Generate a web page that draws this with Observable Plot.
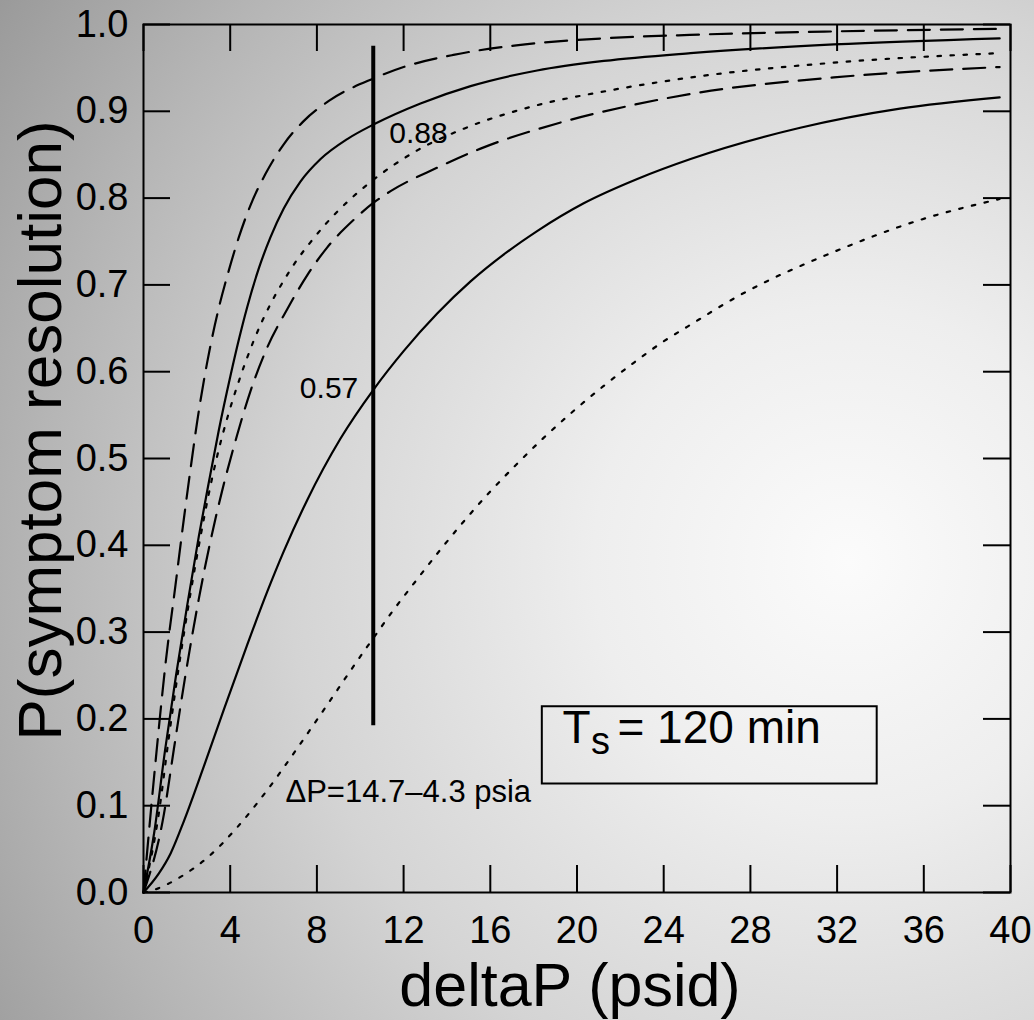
<!DOCTYPE html>
<html><head><meta charset="utf-8">
<script src="https://cdn.jsdelivr.net/npm/d3@7"></script>
<script src="https://cdn.jsdelivr.net/npm/@observablehq/plot@0.6"></script>
<style>
html,body{margin:0;padding:0;}
#chart{width:1034px;height:1020px;background: radial-gradient(circle farthest-corner at 82% 55%, #fbfbfb 0%, #eeeeee 25%, #d4d4d4 55%, #b5b5b5 80%, #9a9a9a 100%);}
</style></head><body><div id="chart"></div>
<script>
// ---- data ----
const xTicks = [0, 4, 8, 12, 16, 20, 24, 28, 32, 36, 40];
const yTicks = [0, 0.1, 0.2, 0.3, 0.4, 0.5, 0.6, 0.7, 0.8, 0.9, 1.0];

// upper dashed curve
const curveA_x = [0, 0.4, 0.71, 1.0, 1.48, 1.86, 2.17, 2.48, 2.94, 3.47, 3.94, 4.40, 4.94, 5.63, 6.47, 7.40, 8.55, 10.63, 12.0, 14.3, 17.2, 21.2, 25.2, 31.8, 39.5];
const curveA_y = [0, 0.11, 0.19, 0.26, 0.355, 0.43, 0.488, 0.543, 0.611, 0.673, 0.717, 0.755, 0.792, 0.828, 0.862, 0.889, 0.912, 0.938, 0.951, 0.965, 0.976, 0.984, 0.988, 0.992, 0.995];
// upper solid curve
const curveB_x = [0, 0.5, 1.0, 1.5, 2.01, 2.55, 3.01, 3.47, 4.01, 4.40, 4.78, 5.32, 5.86, 6.47, 7.24, 8.17, 9.40, 10.63, 12.78, 15.09, 18.16, 21.24, 25.24, 31.85, 39.5];
const curveB_y = [0, 0.07, 0.165, 0.25, 0.33, 0.41, 0.472, 0.532, 0.595, 0.637, 0.674, 0.719, 0.755, 0.788, 0.819, 0.845, 0.868, 0.885, 0.909, 0.929, 0.947, 0.958, 0.967, 0.977, 0.984];
// upper dotted curve
const curveC_x = [0, 0.7, 1.15, 1.6, 2.17, 2.63, 3.01, 3.40, 3.94, 4.48, 5.09, 5.86, 6.47, 7.09, 7.70, 8.40, 9.55, 10.6, 12.63, 14.78, 17.85, 21.5, 25.24, 31.85, 39.5];
const curveC_y = [0, 0.09, 0.175, 0.255, 0.345, 0.41, 0.459, 0.503, 0.553, 0.595, 0.636, 0.678, 0.705, 0.729, 0.749, 0.770, 0.799, 0.821, 0.855, 0.880, 0.905, 0.924, 0.939, 0.956, 0.967];
// lower dashed curve
const curveD_x = [0, 0.94, 1.4, 1.9, 2.55, 3.09, 3.63, 4.32, 4.94, 5.71, 6.63, 7.55, 8.47, 9.70, 10.63, 11.40, 13.55, 15.55, 19.09, 22.16, 25.24, 31.85, 39.5];
const curveD_y = [0, 0.09, 0.165, 0.245, 0.338, 0.405, 0.463, 0.527, 0.578, 0.628, 0.672, 0.711, 0.743, 0.775, 0.795, 0.808, 0.835, 0.857, 0.886, 0.905, 0.920, 0.939, 0.951];
// lower solid curve
const curveE_x = [0, 0.71, 1.25, 1.86, 2.78, 3.71, 4.78, 5.70, 6.47, 7.55, 9.09, 10.63, 12.01, 13.55, 15.09, 16.78, 18.16, 20.31, 22.78, 25.24, 30.3, 34.9, 39.5];
const curveE_y = [0, 0.022, 0.045, 0.082, 0.145, 0.211, 0.285, 0.346, 0.393, 0.452, 0.523, 0.580, 0.624, 0.667, 0.704, 0.738, 0.762, 0.794, 0.822, 0.845, 0.881, 0.903, 0.916];
// lower dotted curve
const curveF_x = [0, 0.48, 1.71, 2.94, 4.32, 5.71, 7.09, 8.47, 9.70, 10.63, 11.55, 12.63, 13.70, 14.86, 16.0, 17.24, 18.47, 19.85, 21.2, 22.6, 24.0, 25.1, 27.5, 31.85, 35.85, 39.5];
const curveF_y = [0, 0.003, 0.018, 0.040, 0.075, 0.118, 0.166, 0.216, 0.261, 0.294, 0.326, 0.361, 0.395, 0.430, 0.462, 0.494, 0.524, 0.555, 0.583, 0.610, 0.635, 0.652, 0.688, 0.738, 0.775, 0.799];

// vertical cut at deltaP = 14.7 - 4.3
const cutX = [10.6];
const cutY = [0.192, 0.975];
const cutLabels = ["0.88", "0.57"];
const cutLabelY = [0.88, 0.57];
const deltaLabel = ["\u0394P=14.7\u20134.3 psia"];
const deltaLabelPos = [6.55, 0.104];
const tsBoxX = [18.4, 33.85];
const tsBoxY = [0.125, 0.214];
const tsTextPos = [19.33, 0.1728];

// ---- build ----
const W = 1034, H = 1020, mL = 143, mR = 24, mT = 24, mB = 128;
const fw = W - mL - mR, fh = H - mT - mB, tk = 27;
const rows = (xs, ys) => xs.map((x, i) => ({x, y: ys[i]}));
const font = "'Liberation Sans', Arial, Helvetica, sans-serif";
const lineOpts = {x: "x", y: "y", stroke: "black", strokeWidth: 2.2, curve: "monotone-x"};

const chart = Plot.plot({
  width: W, height: H,
  marginLeft: mL, marginRight: mR, marginTop: mT, marginBottom: mB,
  style: {background: "transparent", fontFamily: font, overflow: "visible", color: "black"},
  x: {domain: [0, 40]},
  y: {domain: [0, 1]},
  marks: [
    Plot.axisX({ticks: xTicks, tickSize: 0, tickPadding: 24, fontSize: 38, label: null}),
    Plot.axisY({ticks: yTicks, tickSize: 0, tickPadding: 15, tickFormat: d3.format(".1f"), fontSize: 38, label: null}),
    Plot.tickX(xTicks, {x: d => d, insetTop: fh - tk, stroke: "black", strokeWidth: 2}),
    Plot.tickX(xTicks, {x: d => d, insetBottom: fh - tk, stroke: "black", strokeWidth: 2}),
    Plot.tickY(yTicks, {y: d => d, insetRight: fw - tk, stroke: "black", strokeWidth: 2}),
    Plot.tickY(yTicks, {y: d => d, insetLeft: fw - tk, stroke: "black", strokeWidth: 2}),
    Plot.line(rows(curveA_x, curveA_y), {...lineOpts, strokeDasharray: "22,11"}),
    Plot.line(rows(curveB_x, curveB_y), {...lineOpts}),
    Plot.line(rows(curveC_x, curveC_y), {...lineOpts, strokeDasharray: "3.5,9.5"}),
    Plot.line(rows(curveD_x, curveD_y), {...lineOpts, strokeDasharray: "22,11"}),
    Plot.line(rows(curveE_x, curveE_y), {...lineOpts}),
    Plot.line(rows(curveF_x, curveF_y), {...lineOpts, strokeDasharray: "3.5,9.5"}),
    Plot.ruleX(cutX, {x: d => d, y1: cutY[0], y2: cutY[1], stroke: "black", strokeWidth: 4}),
    Plot.text([cutLabels[0]], {x: cutX[0], y: cutLabelY[0], textAnchor: "start", dx: 16, dy: 5, fontSize: 30, fill: "black"}),
    Plot.text([cutLabels[1]], {x: cutX[0], y: cutLabelY[1], textAnchor: "end", dx: -15, dy: -9, fontSize: 30, fill: "black"}),
    Plot.text(deltaLabel, {x: deltaLabelPos[0], y: deltaLabelPos[1], textAnchor: "start", lineAnchor: "bottom", fontSize: 31, fill: "black"}),
    Plot.rect([0], {x1: tsBoxX[0], x2: tsBoxX[1], y1: tsBoxY[0], y2: tsBoxY[1], fill: "none", stroke: "black", strokeWidth: 2}),
    Plot.text(["T"], {x: tsTextPos[0], y: tsTextPos[1], textAnchor: "start", lineAnchor: "bottom", fontSize: 46, fill: "black"}),
    Plot.text(["s"], {x: tsTextPos[0], y: tsTextPos[1], textAnchor: "start", lineAnchor: "bottom", dx: 28.5, dy: 11, fontSize: 38, fill: "black"}),
    Plot.text(["= 120 min"], {x: tsTextPos[0], y: tsTextPos[1], textAnchor: "start", lineAnchor: "bottom", dx: 55, fontSize: 46, fill: "black"}),
    Plot.text(["deltaP (psid)"], {frameAnchor: "bottom", textAnchor: "middle", lineAnchor: "bottom", dx: -7, dy: 113, fontSize: 61, fill: "black"}),
    Plot.text(["P(symptom resolution)"], {frameAnchor: "left", textAnchor: "middle", rotate: -90, lineAnchor: "bottom", dx: -83, dy: -28, fontSize: 62, fill: "black"}),
    Plot.frame({stroke: "black", strokeWidth: 2})
  ]
});
document.getElementById("chart").appendChild(chart);
</script></body></html>
